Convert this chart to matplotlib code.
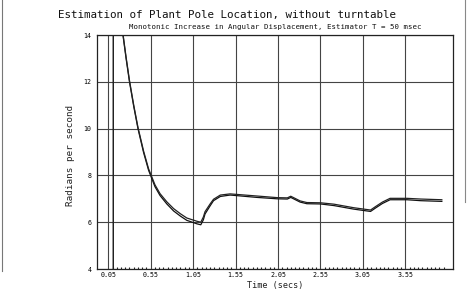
import matplotlib.pyplot as plt
from matplotlib.ticker import FixedLocator
from matplotlib.lines import Line2D

# time samples (secs)
time_s = [0.11, 0.11, 0.15, 0.19, 0.223, 0.26, 0.30, 0.35, 0.40, 0.466, 0.525,
          0.60, 0.66, 0.74, 0.82, 0.90, 0.975, 1.095, 1.14, 1.17, 1.19, 1.25,
          1.29, 1.37, 1.485, 1.52, 1.80, 2.04, 2.16, 2.20, 2.31, 2.39, 2.55,
          2.71, 2.94, 3.14, 3.20, 3.28, 3.37, 3.57, 3.73, 3.98]

# two estimator runs (rad/s)
est_lower = [4.0, 30.0, 16.0, 14.85, 14.0, 13.0, 12.0, 10.95, 10.0, 8.98, 8.22,
             7.52, 7.14, 6.78, 6.48, 6.26, 6.08, 5.93, 5.89, 6.10, 6.35, 6.70,
             6.92, 7.10, 7.16, 7.15, 7.06, 7.00, 6.99, 7.06, 6.86, 6.79, 6.78,
             6.71, 6.56, 6.46, 6.61, 6.80, 6.96, 6.96, 6.92, 6.89]
est_upper = [4.0, 30.0, 16.1, 14.9, 14.05, 13.05, 12.05, 11.0, 10.05, 9.04, 8.28,
             7.60, 7.22, 6.87, 6.58, 6.36, 6.18, 6.04, 6.00, 6.22, 6.45, 6.78,
             6.98, 7.16, 7.21, 7.20, 7.12, 7.05, 7.04, 7.11, 6.91, 6.84, 6.83,
             6.77, 6.62, 6.52, 6.67, 6.86, 7.02, 7.02, 6.99, 6.96]

xticks = [0.05, 0.55, 1.05, 1.55, 2.05, 2.55, 3.05, 3.55]
yticks = [4, 6, 8, 10, 12, 14]

mono = 'DejaVu Sans Mono'

fig = plt.figure(figsize=(4.74, 3.01), dpi=100, facecolor='white')
ax = fig.add_axes([0.2046, 0.1063, 0.751, 0.7774])

# grid
ax.xaxis.set_major_locator(FixedLocator(xticks))
ax.yaxis.set_major_locator(FixedLocator(yticks))
ax.grid(True, which='major', color='#444444', linewidth=0.8)
ax.set_axisbelow(True)

ax.plot(time_s, est_lower, color='#111111', linewidth=0.9)
ax.plot(time_s, est_upper, color='#222222', linewidth=0.9)

ax.set_xlim(-0.083, 4.111)
ax.set_ylim(4, 14)

ax.set_xticklabels(['%.2f' % v for v in xticks], fontfamily=mono, fontsize=4.8)
ax.set_yticklabels([str(v) for v in yticks], fontfamily=mono, fontsize=4.8)
ax.tick_params(axis='y', which='major', length=0, pad=4)
ax.tick_params(axis='x', which='major', length=0, pad=2)
# small sample marks along the time axis
ax.xaxis.set_minor_locator(FixedLocator([0.10 + 0.05 * i for i in range(79)]))
ax.tick_params(axis='x', which='minor', direction='in', length=1.5, width=0.8,
               color='#222222', top=False)

for s in ax.spines.values():
    s.set_color('#222222')
    s.set_linewidth(0.9)

fig.text(0.478, 0.95, 'Estimation of Plant Pole Location, without turntable',
         ha='center', va='center', fontfamily=mono, fontsize=7.8, color='#111111')
fig.text(0.58, 0.91, 'Monotonic Increase in Angular Displacement, Estimator T = 50 msec',
         ha='center', va='center', fontfamily=mono, fontsize=5.3, color='#111111')
fig.text(0.148, 0.485, 'Radians per second', rotation=90, ha='center', va='center',
         fontfamily=mono, fontsize=6.7, color='#222222')
fig.text(0.58, 0.05, 'Time (secs)', ha='center', va='center',
         fontfamily=mono, fontsize=6.1, color='#222222')

# scanned page edges
fig.add_artist(Line2D([0.005, 0.005], [0.10, 1.0], color='#777777', linewidth=0.8))
fig.add_artist(Line2D([0.981, 0.981], [0.33, 1.0], color='#888888', linewidth=0.8))

fig.savefig('out.png', dpi=100, facecolor='white')
